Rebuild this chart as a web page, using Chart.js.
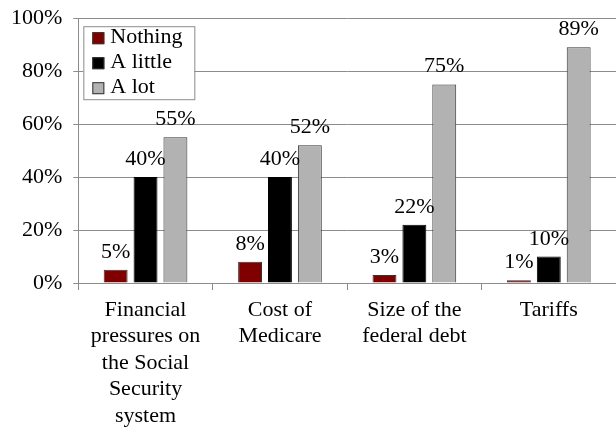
<!DOCTYPE html>
<html>
<head>
<meta charset="utf-8">
<script src="https://cdn.jsdelivr.net/npm/chart.js@4"></script>
<style>
  html, body { margin: 0; padding: 0; background: #fff; }
  #wrap { width: 616px; height: 428px; }
</style>
</head>
<body>
<div id="wrap"><canvas id="chart" width="616" height="428"></canvas></div>
<script>
// categories (multi-line tick labels)
const categories = [
    ['Financial', 'pressures on', 'the Social', 'Security', 'system'],
    ['Cost of', 'Medicare'],
    ['Size of the', 'federal debt'],
    ['Tariffs']
];
const seriesNames = ['Nothing', 'A little', 'A lot'];
const nothing = [5, 8, 3, 1];
const aLittle = [40, 40, 22, 10];
const aLot = [55, 52, 75, 89];
const yTickValues = [0, 20, 40, 60, 80, 100];

const FONT = "'Liberation Serif', 'Times New Roman', serif";
const GRID = '#8c8c8c';

// value labels over each bar
const valueLabels = {
    id: 'valueLabels',
    afterDatasetsDraw(chart) {
        const ctx = chart.ctx;
        ctx.save();
        ctx.font = '22px ' + FONT;
        ctx.fillStyle = '#000';
        ctx.textAlign = 'center';
        ctx.textBaseline = 'alphabetic';
        chart.data.datasets.forEach(function (ds, i) {
            chart.getDatasetMeta(i).data.forEach(function (bar, j) {
                ctx.fillText(ds.data[j] + '%', bar.x, bar.y - 12);
            });
        });
        ctx.restore();
    }
};

// boxed legend inside the plot area
const boxLegend = {
    id: 'boxLegend',
    afterDraw(chart) {
        const ctx = chart.ctx;
        const area = chart.chartArea;
        const x0 = area.left + 5, y0 = area.top + 8;
        const w = 111, h = 73;
        ctx.save();
        ctx.fillStyle = '#fff';
        ctx.fillRect(x0, y0, w, h);
        ctx.strokeStyle = GRID;
        ctx.lineWidth = 1;
        ctx.strokeRect(x0 + 0.5, y0 + 0.5, w, h);
        ctx.font = '22px ' + FONT;
        ctx.textBaseline = 'alphabetic';
        chart.data.datasets.forEach(function (ds, i) {
            const rowY = y0 + 17 + i * 25;
            ctx.fillStyle = ds.backgroundColor;
            ctx.fillRect(x0 + 9, rowY - 11, 12, 12);
            ctx.strokeStyle = '#333';
            ctx.strokeRect(x0 + 9.5, rowY - 10.5, 11, 11);
            ctx.fillStyle = '#000';
            ctx.fillText(ds.label, x0 + 27, rowY);
        });
        ctx.restore();
    }
};

const data = {
    labels: categories,
    datasets: [{
        label: seriesNames[0],
        data: nothing,
        backgroundColor: '#800000',
        borderColor: '#333',
        borderWidth: 1
    }, {
        label: seriesNames[1],
        data: aLittle,
        backgroundColor: '#000000',
        borderColor: '#000',
        borderWidth: 1
    }, {
        label: seriesNames[2],
        data: aLot,
        backgroundColor: '#b2b2b2',
        borderColor: '#333',
        borderWidth: 1
    }]
};

const config = {
    type: 'bar',
    data: data,
    options: {
        responsive: false,
        devicePixelRatio: 1,
        animation: false,
        categoryPercentage: 0.667,
        barPercentage: 0.8,
        layout: { padding: { left: 0, top: 0, right: 0, bottom: 0 } },
        plugins: {
            legend: { display: false },
            tooltip: { enabled: false }
        },
        scales: {
            x: {
                afterFit: function (scale) {
                    scale.height = 145;
                },
                grid: {
                    offset: true,
                    drawOnChartArea: false,
                    color: GRID,
                    tickLength: 7
                },
                border: { color: GRID },
                ticks: {
                    color: '#000',
                    maxRotation: 0,
                    autoSkip: false,
                    padding: 7,
                    font: { family: FONT, size: 22, lineHeight: 1.2 }
                }
            },
            y: {
                min: 0,
                max: 100,
                afterBuildTicks: function (scale) {
                    scale.ticks = yTickValues.map(v => ({ value: v }));
                },
                afterFit: function (scale) {
                    // pull the top of the plot closer to the canvas edge
                    scale.paddingTop = Math.max(0, scale.paddingTop - 6);
                },
                grid: { color: GRID, tickLength: 5 },
                border: { color: GRID },
                ticks: {
                    color: '#000',
                    padding: 11,
                    font: { family: FONT, size: 22 },
                    callback: v => v + '%'
                }
            }
        }
    },
    plugins: [valueLabels, boxLegend]
};

document.fonts.load('22px "Liberation Serif"').then(function () {
    const myChart = new Chart(document.getElementById('chart'), config);
});
</script>
</body>
</html>
